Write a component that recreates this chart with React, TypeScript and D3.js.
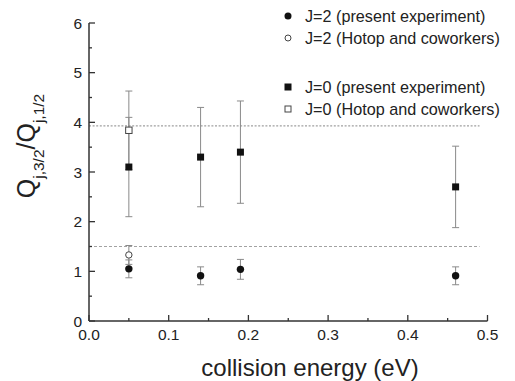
import React from "react";
import * as d3 from "d3";

const energies = [0.05, 0.14, 0.19, 0.46];
const ratioJ2 = [1.05, 0.91, 1.04, 0.91];
const errJ2 = [0.18, 0.18, 0.2, 0.18];
const ratioJ0 = [3.1, 3.3, 3.4, 2.7];
const errJ0 = [1.0, 1.0, 1.03, 0.82];
const hotopEnergy = [0.05];
const hotopJ2 = [1.33];
const hotopErrJ2 = [0.19];
const hotopJ0 = [3.84];
const hotopErrJ0 = [0.79];
const refLines = [3.93, 1.5];
const xTicks = [0, 0.1, 0.2, 0.3, 0.4, 0.5];
const yTicks = [0, 1, 2, 3, 4, 5, 6];
const legendLabels = [
  "J=2 (present experiment)",
  "J=2 (Hotop and coworkers)",
  "J=0 (present experiment)",
  "J=0 (Hotop and coworkers)",
];

const W = 515;
const H = 381;
const font = "'Liberation Sans', Arial, sans-serif";

export default function App() {
  const x = d3.scaleLinear().domain([0, 0.5]).range([89, 487.5]);
  const y = d3.scaleLinear().domain([0, 6]).range([321, 23]);
  const axisColor = "#333";
  const errColor = "#8a8a8a";
  const markColor = "#111";

  const xMinor = d3.range(0.05, 0.5, 0.1);
  const yMinor = d3.range(0.5, 6, 1);

  const errBar = (cx: number, v: number, e: number, key: string) => {
    const px = x(cx);
    const y1 = y(v + e);
    const y2 = y(v - e);
    return (
      <g key={key} stroke={errColor} strokeWidth={1}>
        <line x1={px} x2={px} y1={y1} y2={y2} />
        <line x1={px - 3.5} x2={px + 3.5} y1={y1} y2={y1} />
        <line x1={px - 3.5} x2={px + 3.5} y1={y2} y2={y2} />
      </g>
    );
  };

  const legendY = [16, 38, 87, 109];

  return (
    <svg
      width={W}
      height={H}
      style={{ position: "absolute", left: 0, top: 0, background: "#fff" }}
      fontFamily={font}
    >
      <rect width={W} height={H} fill="#fff" />
      {/* reference lines */}
      <line x1={x(0)} x2={x(0.49)} y1={y(refLines[0])} y2={y(refLines[0])} stroke="#a0a0a0" strokeWidth={1.2} strokeDasharray="2,1.6" />
      <line x1={x(0)} x2={x(0.49)} y1={y(refLines[1])} y2={y(refLines[1])} stroke="#8a8a8a" strokeWidth={0.8} strokeDasharray="3,2" />

      {/* axes */}
      <line x1={x(0)} x2={x(0)} y1={y(0)} y2={y(6)} stroke={axisColor} strokeWidth={1.5} />
      <line x1={x(0)} x2={x(0.5)} y1={y(0)} y2={y(0)} stroke={axisColor} strokeWidth={1.5} />
      {yTicks.map((t) => (
        <g key={"yt" + t}>
          <line x1={x(0)} x2={x(0) + 6} y1={y(t)} y2={y(t)} stroke={axisColor} strokeWidth={1.3} />
          <text x={82} y={y(t)} dy="0.36em" textAnchor="end" fontSize={15.5} fill="#222">
            {t}
          </text>
        </g>
      ))}
      {yMinor.map((t) => (
        <line key={"ym" + t} x1={x(0)} x2={x(0) + 3} y1={y(t)} y2={y(t)} stroke={axisColor} strokeWidth={1.3} />
      ))}
      {xTicks.map((t) => (
        <g key={"xt" + t}>
          <line x1={x(t)} x2={x(t)} y1={y(0)} y2={y(0) - 6} stroke={axisColor} strokeWidth={1.3} />
          <text x={x(t)} y={340} textAnchor="middle" fontSize={15.5} fill="#222">
            {d3.format(".1f")(t)}
          </text>
        </g>
      ))}
      {xMinor.map((t) => (
        <line key={"xm" + t} x1={x(t)} x2={x(t)} y1={y(0)} y2={y(0) - 3} stroke={axisColor} strokeWidth={1.3} />
      ))}

      {/* error bars */}
      {energies.map((e, i) => errBar(e, ratioJ0[i], errJ0[i], "e0" + i))}
      {energies.map((e, i) => errBar(e, ratioJ2[i], errJ2[i], "e2" + i))}
      {hotopEnergy.map((e, i) => errBar(e, hotopJ0[i], hotopErrJ0[i], "h0" + i))}
      {hotopEnergy.map((e, i) => errBar(e, hotopJ2[i], hotopErrJ2[i], "h2" + i))}

      {/* markers */}
      {energies.map((e, i) => (
        <rect key={"s" + i} x={x(e) - 3.5} y={y(ratioJ0[i]) - 3.5} width={7} height={7} fill={markColor} />
      ))}
      {energies.map((e, i) => (
        <circle key={"c" + i} cx={x(e)} cy={y(ratioJ2[i])} r={3.7} fill={markColor} />
      ))}
      {hotopEnergy.map((e, i) => (
        <rect key={"hs" + i} x={x(e) - 3.2} y={y(hotopJ0[i]) - 3.2} width={6.4} height={6.4} fill="#fff" stroke="#444" strokeWidth={1} />
      ))}
      {hotopEnergy.map((e, i) => (
        <circle key={"hc" + i} cx={x(e)} cy={y(hotopJ2[i])} r={3.2} fill="#fff" stroke="#444" strokeWidth={1} />
      ))}

      {/* legend */}
      <circle cx={288} cy={legendY[0]} r={3.5} fill={markColor} />
      <circle cx={288} cy={legendY[1]} r={3} fill="#fff" stroke="#444" strokeWidth={1} />
      <rect x={284.5} y={legendY[2] - 3.5} width={7} height={7} fill={markColor} />
      <rect x={285} y={legendY[3] - 3} width={6} height={6} fill="#fff" stroke="#444" strokeWidth={1} />
      {legendLabels.map((l, i) => (
        <text key={l} x={305} y={legendY[i]} dy="0.36em" fontSize={16.2} fill="#222">
          {l}
        </text>
      ))}

      {/* y label */}
      <text transform="translate(35,146) rotate(-90)" textAnchor="middle" fontSize={25} fill="#222">
        <tspan>Q</tspan>
        <tspan fontSize={15.5} dy={9}>j,3/2</tspan>
        <tspan dy={-9}>/Q</tspan>
        <tspan fontSize={15.5} dy={9}>j,1/2</tspan>
      </text>

      {/* x label */}
      <text x={310} y={376} textAnchor="middle" fontSize={24} fill="#222">
        collision energy (eV)
      </text>
    </svg>
  );
}
